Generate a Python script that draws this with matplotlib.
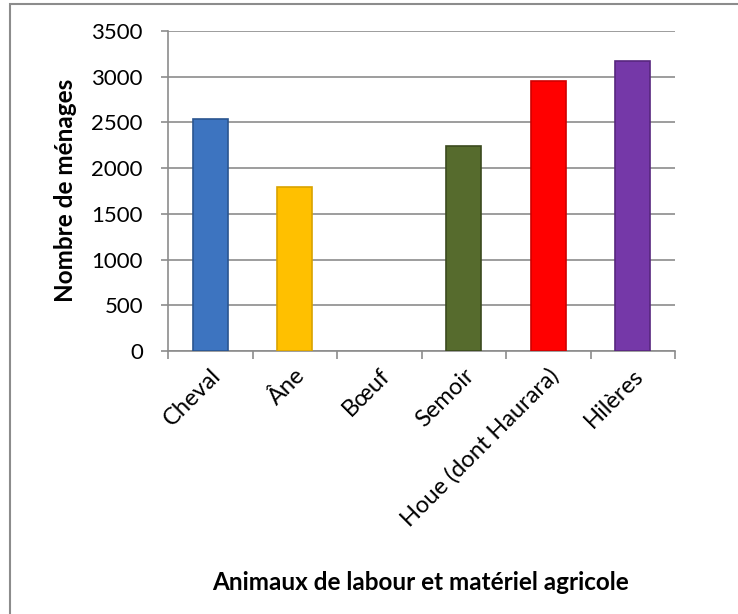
import matplotlib
matplotlib.use("Agg")
import matplotlib.pyplot as plt
from matplotlib.patches import Rectangle
import numpy as np

categories = ["Cheval", "Âne", "Bœuf", "Semoir", "Houe (dont Haurara)", "Hilères"]
values = [2540, 1790, 0, 2240, 2950, 3170]
colors = ["#3D74C0", "#FFC000", "#9BBB59", "#566B2D", "#FF0000", "#7538A8"]
edges = ["#2A5590", "#D9A300", "none", "#3B4A1E", "#D00000", "#57267F"]
yticks = [0, 500, 1000, 1500, 2000, 2500, 3000, 3500]

plt.rcParams['font.family'] = ['Lato', 'DejaVu Sans']

W, H = 738, 614
fig = plt.figure(figsize=(W / 100, H / 100), dpi=100)
ax = fig.add_axes([168 / W, 1 - 351 / H, (675 - 168) / W, (351 - 31) / H])

x = np.arange(len(categories))
ax.bar(x, values, width=0.41, color=colors, edgecolor=edges, linewidth=1.2, zorder=3)

ax.set_xlim(-0.5, len(categories) - 0.5)
ax.set_ylim(0, 3500)
ax.set_yticks(yticks)
ax.set_yticklabels([str(v) for v in yticks], fontsize=16)
ax.yaxis.grid(True, color="#8C8C8C", linewidth=1.2, zorder=0)

ax.set_xticks(np.arange(-0.5, len(categories), 1.0))
ax.set_xticklabels([])
ax.set_xticks(x, minor=True)
ax.set_xticklabels(categories, minor=True, rotation=45, ha="right", va="top",
                   rotation_mode="anchor", fontsize=17)
ax.tick_params(axis="x", which="minor", length=0, pad=10)
ax.tick_params(axis="x", which="major", length=6, color="#8C8C8C", width=1.2, direction="out")
ax.tick_params(axis="y", length=5, color="#8C8C8C", width=1.2, direction="out", pad=13)

for s in ["top", "right"]:
    ax.spines[s].set_visible(False)
for s in ["left", "bottom"]:
    ax.spines[s].set_color("#8C8C8C")
    ax.spines[s].set_linewidth(1.2)

ax.set_ylabel("Nombre de ménages", fontsize=17.5, fontweight="bold")
ax.yaxis.set_label_coords(77 / W, 1 - 190 / H, transform=fig.transFigure)
fig.text(421 / W, 1 - 582 / H, "Animaux de labour et matériel agricole",
         fontsize=17.5, fontweight="bold", ha="center", va="center")

fig.patches.append(Rectangle((10 / W, -0.05), 1.2, 1 - 4 / H + 0.05,
                             transform=fig.transFigure, fill=False,
                             edgecolor="#8C8C8C", linewidth=1.5, clip_on=False))

fig.savefig("out.png", dpi=100)
